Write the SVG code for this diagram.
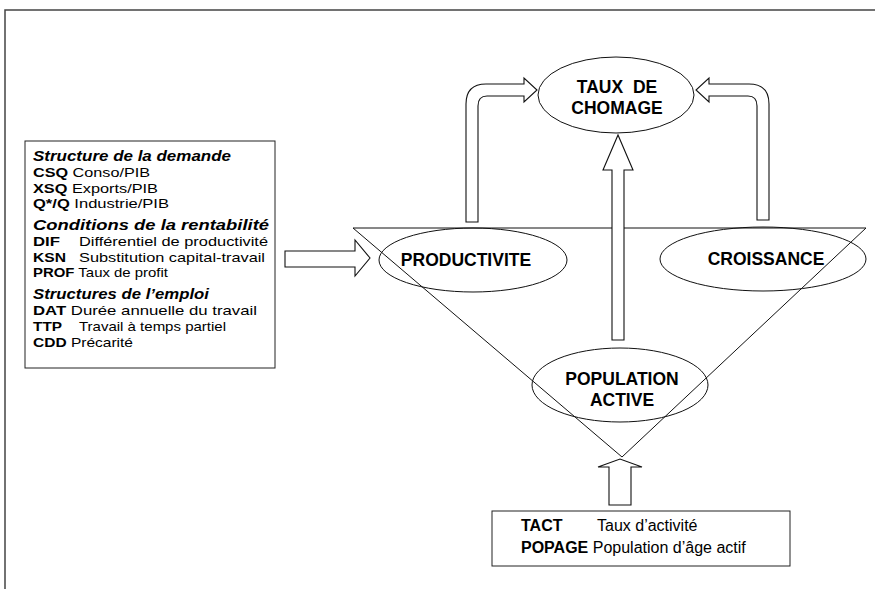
<svg xmlns="http://www.w3.org/2000/svg" width="875" height="589" viewBox="0 0 875 589">
<style>
.frame{fill:none;stroke:#444;stroke-width:1.5}
.box{fill:#fff;stroke:#222;stroke-width:1}
.node{fill:none;stroke:#111;stroke-width:1}
.arrow{fill:#fff;stroke:#111;stroke-width:1.1;stroke-linejoin:miter}
.tri{fill:none;stroke:#111;stroke-width:1}
text{font-family:"Liberation Sans",Arial,sans-serif;fill:#000}
.h{font-weight:bold;font-style:italic;font-size:14.5px}
.b{font-size:13.5px}
.k{font-weight:bold}
.lbl{font-weight:bold;font-size:17.5px;text-anchor:middle}
.bb{font-size:16px}
</style>
<path class="frame" d="M5 589 V10 H875"/>
<g id="connectors">
<polygon id="tri" class="tri" points="353,228 866,228 622,457"/>
<path class="arrow" d="M466 222 V104 Q466 84 486 84 H524 V78 L537 90 L524 102 V96 H487 Q478 96 478 106 V222 Z"/>
<path class="arrow" d="M769 220 V104 Q769 84 749 84 H709 V78 L696 90 L709 102 V96 H748 Q757 96 757 106 V220 Z"/>
<polygon class="arrow" points="612,340 612,170 603,170 618,135 633,170 624,170 624,340"/>
<polygon class="arrow" points="285,251 355,251 355,240 370,258 355,276 355,267 285,267"/>
<polygon class="arrow" points="609,505 609,467 598,467 620,459 642,467 631,467 631,505"/>
</g>
<g id="legend-left">
<rect class="box" x="25" y="141" width="250" height="227"/>
<text class="h" x="33" y="161" textLength="198" lengthAdjust="spacingAndGlyphs">Structure de la demande</text>
<text class="b" x="33" y="177" textLength="117" lengthAdjust="spacingAndGlyphs"><tspan class="k">CSQ</tspan> Conso/PIB</text>
<text class="b" x="33" y="192.5" textLength="125" lengthAdjust="spacingAndGlyphs"><tspan class="k">XSQ</tspan> Exports/PIB</text>
<text class="b" x="33" y="208" textLength="136" lengthAdjust="spacingAndGlyphs"><tspan class="k">Q*/Q</tspan> Industrie/PIB</text>
<text class="h" x="33" y="230" textLength="236" lengthAdjust="spacingAndGlyphs">Conditions de la rentabilité</text>
<text class="b k" x="33" y="246" textLength="27" lengthAdjust="spacingAndGlyphs">DIF</text>
<text class="b" x="79" y="246" textLength="189" lengthAdjust="spacingAndGlyphs">Différentiel de productivité</text>
<text class="b k" x="33" y="261.5" textLength="33" lengthAdjust="spacingAndGlyphs">KSN</text>
<text class="b" x="79" y="261.5" textLength="186" lengthAdjust="spacingAndGlyphs">Substitution capital-travail</text>
<text class="b" x="33" y="277" textLength="135" lengthAdjust="spacingAndGlyphs"><tspan class="k">PROF</tspan> Taux de profit</text>
<text class="h" x="33" y="298.5" textLength="176" lengthAdjust="spacingAndGlyphs">Structures de l’emploi</text>
<text class="b" x="33" y="315" textLength="224" lengthAdjust="spacingAndGlyphs"><tspan class="k">DAT</tspan> Durée annuelle du travail</text>
<text class="b k" x="33" y="331" textLength="29" lengthAdjust="spacingAndGlyphs">TTP</text>
<text class="b" x="79" y="331" textLength="147" lengthAdjust="spacingAndGlyphs">Travail à temps partiel</text>
<text class="b" x="33" y="347" textLength="100" lengthAdjust="spacingAndGlyphs"><tspan class="k">CDD</tspan> Précarité</text>
</g>
<g id="taux-chomage">
<ellipse class="node" cx="616" cy="95" rx="78" ry="38"/>
<text class="lbl" x="617" y="93" word-spacing="5">TAUX DE</text>
<text class="lbl" x="617" y="114">CHOMAGE</text>
</g>
<g id="productivite">
<ellipse class="node" cx="473" cy="260" rx="94" ry="32"/>
<text class="lbl" x="466" y="266">PRODUCTIVITE</text>
</g>
<g id="croissance">
<ellipse class="node" cx="763" cy="259" rx="103" ry="32"/>
<text class="lbl" x="766" y="265">CROISSANCE</text>
</g>
<g id="population-active">
<ellipse class="node" cx="620" cy="385" rx="88" ry="37"/>
<text class="lbl" x="622" y="385">POPULATION</text>
<text class="lbl" x="622" y="406">ACTIVE</text>
</g>
<g id="legend-bottom">
<rect class="box" x="492" y="511" width="298" height="55"/>
<text class="bb k" x="521" y="531">TACT</text>
<text class="bb" x="597" y="531">Taux d’activité</text>
<text class="bb" x="521" y="553"><tspan class="k">POPAGE</tspan> Population d’âge actif</text>
</g>
</svg>
